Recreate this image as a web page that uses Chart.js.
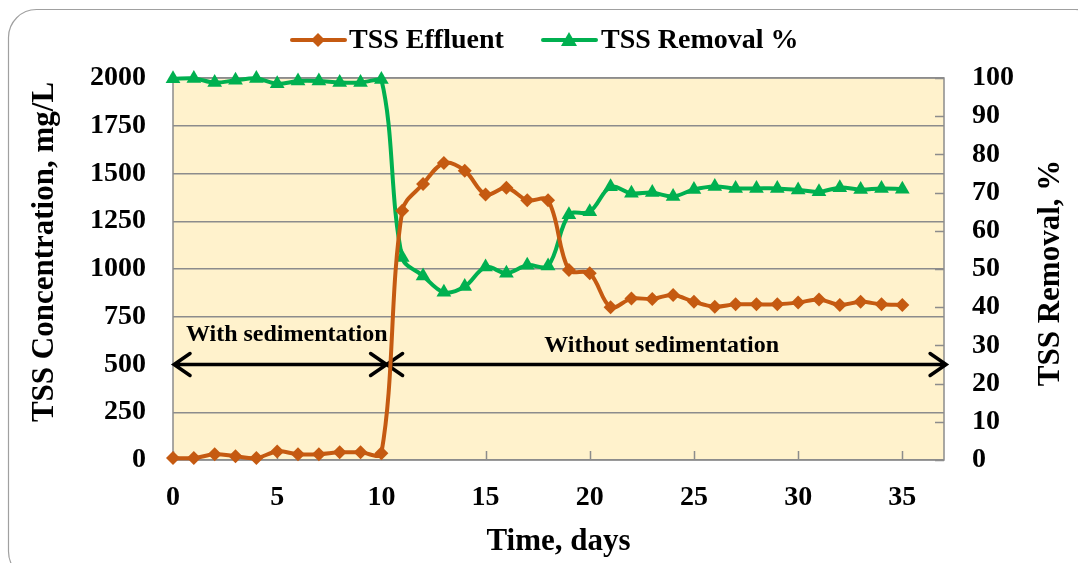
<!DOCTYPE html>
<html>
<head>
<meta charset="utf-8">
<script src="https://cdn.jsdelivr.net/npm/chart.js@4.4.0/dist/chart.umd.min.js"></script>
<style>
  html, body { margin: 0; padding: 0; background: #fff; }
  #tssChart { display: block; }
</style>
</head>
<body>
<canvas id="tssChart" width="1078" height="563"></canvas>
<script>
// data
const days = [0,1,2,3,4,5,6,7,8,9,10,11,12,13,14,15,16,17,18,19,20,21,22,23,24,25,26,27,28,29,30,31,32,33,34,35];
const tssEffluent = [10,10,30,20,10,45,30,30,40,40,35,1305,1445,1555,1515,1390,1425,1360,1360,995,978,800,845,843,864,828,803,815,815,815,824,840,812,828,815,812];
const tssRemoval = [99.8,99.9,98.8,99.4,99.9,98.5,99.2,99.2,98.8,98.8,99.6,53,48.2,43.9,45.4,50.5,48.9,51,50.8,64.2,65,71.5,69.8,70,69,70.8,71.6,71.1,71.1,71.1,70.7,70.2,71.3,70.8,71.1,70.9];
const xTicks = [0,5,10,15,20,25,30,35];
const leftTicks = [0,250,500,750,1000,1250,1500,1750,2000];
const rightTicks = [0,10,20,30,40,50,60,70,80,90,100];

// phase arrows (in axis units: days / mg/L)
const arrowLevel = 500;
const phaseSpans = [[0.05, 10.25], [10.25, 37.1]];
const phaseLabels = ['With sedimentation', 'Without sedimentation'];
const phaseLabelAt = [{day: 0.62, level: 654, align: 'left'}, {day: 23.45, level: 597, align: 'center'}];

const ORANGE = '#C55A11';
const GREEN = '#00B050';
const GRID = '#8C8C8C';
const SERIF = '"Liberation Serif", "Times New Roman", serif';

function points(ys) {
    return days.map((d, i) => ({x: d, y: ys[i]}));
}

const decorPlugin = {
    id: 'decor',
    beforeDraw(chart) {
        const ctx = chart.ctx;
        const a = chart.chartArea;
        ctx.save();
        ctx.fillStyle = '#fff';
        ctx.fillRect(0, 0, chart.width, chart.height);
        // outer rounded frame
        ctx.strokeStyle = '#A0A0A0';
        ctx.lineWidth = 1.2;
        ctx.beginPath();
        ctx.roundRect(8.5, 9.5, 1095, 570, 28);
        ctx.stroke();
        // plot area fill
        ctx.fillStyle = '#FFF2CC';
        ctx.fillRect(a.left, a.top, a.right - a.left, a.bottom - a.top);
        ctx.restore();
    },
    beforeDatasetsDraw(chart) {
        const ctx = chart.ctx;
        const a = chart.chartArea;
        const x = chart.scales.x, y = chart.scales.y, y1 = chart.scales.y1;
        ctx.save();
        ctx.strokeStyle = GRID;
        ctx.lineWidth = 1.5;
        ctx.strokeRect(a.left, a.top, a.right - a.left, a.bottom - a.top);
        // inward tick marks
        ctx.beginPath();
        rightTicks.forEach(v => {
            const py = Math.round(y1.getPixelForValue(v)) + 0.5;
            ctx.moveTo(a.right - 9, py);
            ctx.lineTo(a.right, py);
        });
        xTicks.forEach(v => {
            const px = Math.round(x.getPixelForValue(v)) + 0.5;
            ctx.moveTo(px, a.bottom);
            ctx.lineTo(px, a.bottom - 9);
        });
        ctx.stroke();

        // phase arrows
        const ay = y.getPixelForValue(arrowLevel);
        ctx.strokeStyle = '#000';
        ctx.lineWidth = 3.5;
        ctx.lineCap = 'round';
        phaseSpans.forEach(([d1, d2]) => {
            const x1 = x.getPixelForValue(d1), x2 = x.getPixelForValue(d2);
            ctx.beginPath();
            ctx.moveTo(x1, ay); ctx.lineTo(x2, ay);
            ctx.moveTo(x1 + 16, ay - 11); ctx.lineTo(x1, ay); ctx.lineTo(x1 + 16, ay + 11);
            ctx.moveTo(x2 - 16, ay - 11); ctx.lineTo(x2, ay); ctx.lineTo(x2 - 16, ay + 11);
            ctx.stroke();
        });
        ctx.fillStyle = '#000';
        ctx.font = 'bold 24px ' + SERIF;
        ctx.textBaseline = 'middle';
        phaseLabels.forEach((t, i) => {
            const p = phaseLabelAt[i];
            ctx.textAlign = p.align;
            ctx.fillText(t, x.getPixelForValue(p.day), y.getPixelForValue(p.level));
        });
        ctx.restore();
    },
    afterDraw(chart) {
        const ctx = chart.ctx;
        const a = chart.chartArea;
        ctx.save();
        ctx.fillStyle = '#000';
        ctx.textAlign = 'center';
        ctx.textBaseline = 'middle';
        ctx.font = 'bold 31px ' + SERIF;
        // vertical axis titles, both read bottom to top
        ctx.save();
        ctx.translate(45, (a.top + a.bottom) / 2 - 17);
        ctx.rotate(-Math.PI / 2);
        ctx.fillText('TSS Concentration, mg/L', 0, 0);
        ctx.restore();
        ctx.save();
        ctx.translate(1051, (a.top + a.bottom) / 2 + 4);
        ctx.rotate(-Math.PI / 2);
        ctx.fillText('TSS Removal, %', 0, 0);
        ctx.restore();

        // legend
        const ly = 40;
        ctx.lineWidth = 4;
        ctx.lineCap = 'round';
        ctx.strokeStyle = ORANGE;
        ctx.beginPath(); ctx.moveTo(292, ly); ctx.lineTo(345, ly); ctx.stroke();
        ctx.fillStyle = ORANGE;
        ctx.beginPath();
        ctx.moveTo(318, ly - 7); ctx.lineTo(325, ly); ctx.lineTo(318, ly + 7); ctx.lineTo(311, ly);
        ctx.closePath(); ctx.fill();
        ctx.strokeStyle = GREEN;
        ctx.beginPath(); ctx.moveTo(543, ly); ctx.lineTo(596, ly); ctx.stroke();
        ctx.fillStyle = GREEN;
        ctx.beginPath();
        ctx.moveTo(569, ly - 8); ctx.lineTo(577, ly + 6); ctx.lineTo(561, ly + 6);
        ctx.closePath(); ctx.fill();
        ctx.fillStyle = '#000';
        ctx.textAlign = 'left';
        ctx.font = 'bold 28px ' + SERIF;
        ctx.fillText('TSS Effluent', 349, ly + 1);
        ctx.fillText('TSS Removal %', 601, ly + 1);
        ctx.restore();
    }
};

const tickFont = {family: SERIF, weight: 'bold', size: 28};
const plain = v => String(v);

new Chart(document.getElementById('tssChart'), {
    type: 'line',
    data: {
        datasets: [
            {
                label: 'TSS Effluent',
                data: points(tssEffluent),
                yAxisID: 'y',
                borderColor: ORANGE,
                backgroundColor: ORANGE,
                borderWidth: 4,
                pointStyle: 'rectRot',
                pointRadius: 7,
                pointBorderWidth: 0,
                tension: 0.35,
                clip: false
            },
            {
                label: 'TSS Removal %',
                data: points(tssRemoval),
                yAxisID: 'y1',
                borderColor: GREEN,
                backgroundColor: GREEN,
                borderWidth: 4,
                pointStyle: 'triangle',
                pointRadius: 8.5,
                pointBorderWidth: 0,
                tension: 0.35,
                clip: false
            }
        ]
    },
    options: {
        responsive: false,
        animation: false,
        layout: {padding: {top: 78, left: 0, right: 0, bottom: 0}},
        plugins: {
            legend: {display: false},
            tooltip: {enabled: false}
        },
        scales: {
            x: {
                type: 'linear',
                min: 0,
                max: 37,
                afterBuildTicks: s => { s.ticks = xTicks.map(v => ({value: v})); },
                afterFit: s => { s.height = 103; },
                grid: {display: false, drawTicks: false},
                border: {display: false},
                ticks: {font: tickFont, color: '#000', padding: 21, maxRotation: 0, autoSkip: false, callback: plain},
                title: {
                    display: true,
                    text: 'Time, days',
                    color: '#000',
                    font: {family: SERIF, weight: 'bold', size: 31},
                    padding: {top: 0, bottom: 2}
                }
            },
            y: {
                position: 'left',
                min: 0,
                max: 2000,
                afterBuildTicks: s => { s.ticks = leftTicks.map(v => ({value: v})); },
                afterFit: s => { s.width = 173; },
                grid: {color: GRID, lineWidth: 1.5, drawTicks: false},
                border: {display: false},
                ticks: {font: tickFont, color: '#000', padding: 27, callback: plain}
            },
            y1: {
                position: 'right',
                min: 0,
                max: 100,
                afterBuildTicks: s => { s.ticks = rightTicks.map(v => ({value: v})); },
                afterFit: s => { s.width = 134; },
                grid: {display: false, drawTicks: false},
                border: {display: false},
                ticks: {font: tickFont, color: '#000', padding: 28, callback: plain}
            }
        }
    },
    plugins: [decorPlugin]
});
</script>
</body>
</html>
